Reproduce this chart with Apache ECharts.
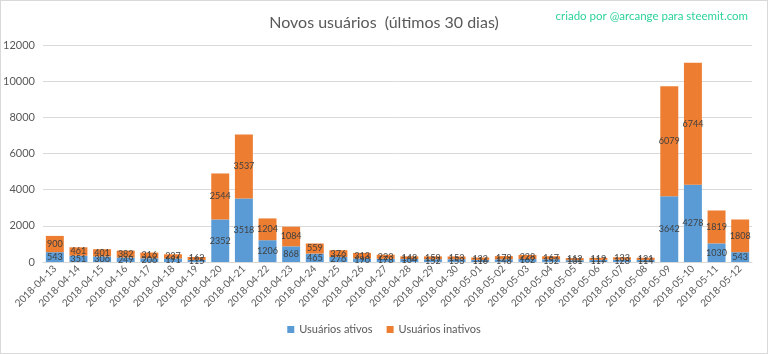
<!DOCTYPE html>
<html>
<head>
<meta charset="utf-8">
<script src="https://cdn.jsdelivr.net/npm/echarts@6/dist/echarts.min.js"></script>
<style>
    html, body {margin:0; padding:0; background:#fff;}
    #chart {width:766px; height:352px; border:1px solid #d9d9d9;}
</style>
</head>
<body>
<div id="chart"></div>
<script>
var dias = ['2018-04-13','2018-04-14','2018-04-15','2018-04-16','2018-04-17','2018-04-18','2018-04-19',
    '2018-04-20','2018-04-21','2018-04-22','2018-04-23','2018-04-24','2018-04-25','2018-04-26',
    '2018-04-27','2018-04-28','2018-04-29','2018-04-30','2018-05-01','2018-05-02','2018-05-03',
    '2018-05-04','2018-05-05','2018-05-06','2018-05-07','2018-05-08','2018-05-09','2018-05-10',
    '2018-05-11','2018-05-12'];
var ativos = [543,351,306,249,206,191,115,2352,3518,1206,868,465,276,190,178,164,152,153,116,148,162,152,101,117,128,114,3642,4278,1030,543];
var inativos = [900,461,401,382,316,237,162,2544,3537,1204,1084,559,376,313,223,148,159,153,132,179,228,167,112,112,133,121,6079,6744,1819,1808];

var myChart = echarts.init(document.getElementById('chart'));
var fonte = 'Lato, "Open Sans", sans-serif';

var rotulo = {
    show: true,
    position: 'inside',
    color: '#404040',
    fontSize: 9,
    fontFamily: fonte
};

var option = {
    animation: false,
    title: [{
        text: 'Novos usuários  (últimos 30 dias)',
        left: 'center',
        top: 9,
        textStyle: {color: '#595959', fontSize: 16, fontWeight: 'normal', fontFamily: fonte}
    }, {
        text: 'criado por @arcange para steemit.com',
        right: 14,
        top: 4,
        textStyle: {color: '#2ed39b', fontSize: 11.5, fontWeight: 'normal', fontFamily: fonte}
    }],
    legend: {
        bottom: 13,
        left: 'center',
        itemWidth: 7,
        itemHeight: 7,
        itemGap: 14,
        icon: 'rect',
        textStyle: {color: '#595959', fontSize: 11, fontFamily: fonte},
        data: ['Usuários ativos', 'Usuários inativos']
    },
    grid: {
        left: 42,
        right: 15,
        top: 44,
        bottom: 91,
        containLabel: false,
        outerBoundsMode: 'none'
    },
    xAxis: {
        type: 'category',
        data: dias,
        axisTick: {show: false},
        axisLine: {lineStyle: {color: '#d9d9d9'}},
        axisLabel: {
            interval: 0,
            rotate: 45,
            color: '#595959',
            fontSize: 10,
            fontFamily: fonte,
            margin: 5
        }
    },
    yAxis: {
        type: 'value',
        min: 0,
        max: 12000,
        interval: 2000,
        axisLine: {show: false},
        axisTick: {show: false},
        splitLine: {lineStyle: {color: '#d9d9d9'}},
        axisLabel: {
            color: '#595959',
            fontSize: 11,
            fontFamily: fonte,
            margin: 8,
            formatter: function (v) { return String(v); }
        }
    },
    series: [{
        name: 'Usuários ativos',
        type: 'bar',
        stack: 'total',
        barWidth: '76%',
        itemStyle: {color: '#5b9bd5'},
        label: rotulo,
        data: ativos
    }, {
        name: 'Usuários inativos',
        type: 'bar',
        stack: 'total',
        barWidth: '76%',
        itemStyle: {color: '#ed7d31'},
        label: rotulo,
        data: inativos
    }]
};

myChart.setOption(option);
</script>
</body>
</html>
